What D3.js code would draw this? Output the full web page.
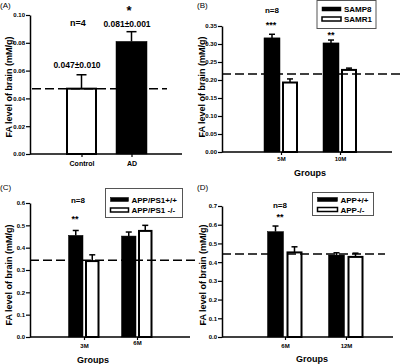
<!DOCTYPE html>
<html><head><meta charset="utf-8">
<script src="https://cdn.jsdelivr.net/npm/d3@7"></script>
<style>body{margin:0;background:#fff}svg{display:block;font-family:"Liberation Sans",Arial,sans-serif;font-weight:bold}</style>
</head><body><svg id="c" width="400" height="364"></svg>
<script>
// ---- data ----
const aCats = ["Control", "AD"];
const aVals = [0.047, 0.081];
const aErrs = [0.010, 0.007];
const aRef = 0.047;
const aTicks = [0, 0.02, 0.04, 0.06, 0.08, 0.10];

const bCats = ["5M", "10M"];
const bSeries = ["SAMP8", "SAMR1"];
const bSAMP8 = [0.317, 0.303];
const bSAMP8err = [0.010, 0.008];
const bSAMR1 = [0.193, 0.228];
const bSAMR1err = [0.010, 0.005];
const bRef = 0.217;
const bTicks = [0, 0.05, 0.10, 0.15, 0.20, 0.25, 0.30, 0.35];

const cCats = ["3M", "6M"];
const cSeries = ["APP/PS1+/+", "APP/PS1 -/-"];
const cWT = [0.455, 0.452];
const cWTerr = [0.022, 0.018];
const cKO = [0.340, 0.475];
const cKOerr = [0.028, 0.025];
const cRef = 0.344;
const cTicks = [0, 0.1, 0.2, 0.3, 0.4, 0.5, 0.6];

const dCats = ["6M", "12M"];
const dSeries = ["APP+/+", "APP-/-"];
const dWT = [0.563, 0.438];
const dWTerr = [0.030, 0.012];
const dKO = [0.452, 0.428];
const dKOerr = [0.030, 0.020];
const dRef = 0.443;
const dTicks = [0, 0.1, 0.2, 0.3, 0.4, 0.5, 0.6, 0.7];

const svg = d3.select("#c");
const yTitle = "FA level of brain (mM/g)";

function panel(o) {
  const g = svg.append("g");
  const y = d3.scaleLinear().domain([0, o.ymax]).range([o.y0, o.y1]);
  const x = d3.scalePoint().domain(o.cats).range([o.c0 - o.step, o.c0 + o.step * 2]).padding(1);
  g.append("text").attr("x", o.lx).attr("y", o.ly).attr("font-size", 8).attr("font-weight", "normal").text(o.letter);
  const ya = d3.axisLeft(y).tickValues(o.ticks).tickFormat(d3.format(o.fmt)).tickSize(4).tickSizeOuter(0);
  const yg = g.append("g").attr("transform", `translate(${o.ax0},0)`).call(ya);
  yg.selectAll("text").attr("font-size", 6).attr("font-weight", "bold").attr("x", -5);
  yg.select(".domain").attr("stroke-width", 1.5);
  yg.selectAll(".tick line").attr("stroke-width", 1.2);
  g.append("text").attr("transform", `translate(${o.tx},${o.ty}) rotate(-90)`).attr("text-anchor", "middle")
    .attr("font-size", 9).text(yTitle);
  const xa = d3.axisBottom(x).tickSize(3).tickSizeOuter(0);
  const xg = g.append("g").attr("transform", `translate(0,${o.y0})`).call(xa);
  xg.select(".domain").remove();
  xg.selectAll(".tick line").attr("stroke-width", 1.2);
  xg.selectAll("text").attr("font-size", o.xfs).attr("font-weight", "bold").attr("y", (d, i) => o.xlabY[i]);
  g.append("line").attr("x1", o.ax0).attr("x2", o.ax1).attr("y1", o.y0).attr("y2", o.y0)
    .attr("stroke", "#000").attr("stroke-width", 1.5);
  if (o.groupsY) g.append("text").attr("x", o.groupsX).attr("y", o.groupsY).attr("text-anchor", "middle")
    .attr("font-size", 9).text("Groups");
  o.series.forEach((s, si) => {
    s.vals.forEach((v, i) => {
      const fill = Array.isArray(s.fill) ? s.fill[i] : s.fill;
      const white = fill === "#fff";
      const cx = x(o.cats[i]);
      const left = o.series.length === 1 ? cx - o.bw / 2 : (si === 0 ? cx - o.gap / 2 - o.bw : cx + o.gap / 2);
      const mid = left + o.bw / 2;
      const eTop = y(v + s.errs[i]);
      g.append("line").attr("x1", mid).attr("x2", mid).attr("y1", y(v)).attr("y2", eTop)
        .attr("stroke", "#000").attr("stroke-width", 1.5);
      g.append("line").attr("x1", mid - o.cap / 2).attr("x2", mid + o.cap / 2).attr("y1", eTop).attr("y2", eTop)
        .attr("stroke", "#000").attr("stroke-width", 1.5);
      g.append("rect").attr("x", left + (white ? 1 : 0)).attr("y", y(v))
        .attr("width", o.bw - (white ? 2 : 0)).attr("height", y(0) - y(v))
        .attr("fill", fill).attr("stroke", "#000").attr("stroke-width", white ? 2 : 0.5);
    });
  });
  g.append("line").attr("x1", o.dx0).attr("x2", o.dx1).attr("y1", y(o.ref)).attr("y2", y(o.ref))
    .attr("stroke", "#000").attr("stroke-width", 1.5).attr("stroke-dasharray", "9,4");
  (o.notes || []).forEach(n => {
    g.append("text").attr("x", n[0]).attr("y", n[1]).attr("text-anchor", "middle").attr("font-size", n[3]).text(n[2]);
  });
  if (o.legend) {
    const L = o.legend;
    g.append("rect").attr("x", L.x).attr("y", L.y).attr("width", L.w).attr("height", L.h)
      .attr("fill", "#fff").attr("stroke", "#555").attr("stroke-width", 1);
    o.series.forEach((s, si) => {
      const yy = L.y + L.pad + si * L.dy;
      const white = s.fill === "#fff";
      g.append("rect").attr("x", L.x + 5).attr("y", yy).attr("width", L.sw).attr("height", 4)
        .attr("fill", s.fill).attr("stroke", "#000").attr("stroke-width", white ? 1.5 : 0.5);
      g.append("text").attr("x", L.x + 8 + L.sw).attr("y", yy + 5).attr("font-size", L.fs).text(s.name);
    });
  }
}

panel({
  letter: "(A)", lx: 0, ly: 8, cats: aCats, ymax: 0.10, y0: 154, y1: 15, ticks: aTicks, fmt: ".2f",
  c0: 81.5, step: 50, ax0: 30, ax1: 182, tx: 12, ty: 87, bw: 31, gap: 0, cap: 10,
  xlabY: [7, 7], xfs: 7,
  series: [{ vals: aVals, errs: aErrs, fill: ["#fff", "#000"] }],
  ref: aRef, dx0: 32, dx1: 167,
  notes: [[78, 26, "n=4", 9], [127, 27, "0.081±0.001", 8.5], [129, 15, "*", 13], [77, 68, "0.047±0.010", 8.5]]
});

panel({
  letter: "(B)", lx: 197, ly: 8, cats: bCats, ymax: 0.35, y0: 152, y1: 26, ticks: bTicks, fmt: ".2f",
  c0: 281, step: 59, ax0: 222, ax1: 392, tx: 205, ty: 87, bw: 16, gap: 2, cap: 6,
  xlabY: [5, 5], xfs: 6, groupsX: 310, groupsY: 176,
  series: [{ name: bSeries[0], vals: bSAMP8, errs: bSAMP8err, fill: "#000" },
           { name: bSeries[1], vals: bSAMR1, errs: bSAMR1err, fill: "#fff" }],
  ref: bRef, dx0: 222, dx1: 400,
  notes: [[272, 13, "n=8", 8], [271, 28, "***", 9], [331, 38, "**", 9]],
  legend: { x: 317, y: 0.5, w: 59, h: 28, pad: 6.5, dy: 10, sw: 19, fs: 8 }
});

panel({
  letter: "(C)", lx: 0, ly: 190, cats: cCats, ymax: 0.6, y0: 337, y1: 203, ticks: cTicks, fmt: ".1f",
  c0: 84, step: 53, ax0: 30, ax1: 190, tx: 12, ty: 275, bw: 14.5, gap: 2, cap: 6,
  xlabY: [7, 4], xfs: 6, groupsX: 93, groupsY: 363,
  series: [{ name: cSeries[0], vals: cWT, errs: cWTerr, fill: "#000" },
           { name: cSeries[1], vals: cKO, errs: cKOerr, fill: "#fff" }],
  ref: cRef, dx0: 30, dx1: 198,
  notes: [[78, 203, "n=8", 8], [75, 222, "**", 9]],
  legend: { x: 105.5, y: 188.5, w: 77, h: 29, pad: 9, dy: 10.5, sw: 18, fs: 8 }
});

panel({
  letter: "(D)", lx: 197, ly: 190, cats: dCats, ymax: 0.7, y0: 337, y1: 206, ticks: dTicks, fmt: ".1f",
  c0: 285, step: 61, ax0: 222, ax1: 393, tx: 206, ty: 275, bw: 16, gap: 3, cap: 6,
  xlabY: [7, 7], xfs: 6, groupsX: 312, groupsY: 362,
  series: [{ name: dSeries[0], vals: dWT, errs: dWTerr, fill: "#000" },
           { name: dSeries[1], vals: dKO, errs: dKOerr, fill: "#fff" }],
  ref: dRef, dx0: 222, dx1: 385,
  notes: [[280, 208, "n=8", 8], [280, 220, "**", 9]],
  legend: { x: 312.5, y: 192.5, w: 61, h: 23, pad: 5, dy: 10, sw: 20, fs: 8 }
});
</script>
</body></html>
